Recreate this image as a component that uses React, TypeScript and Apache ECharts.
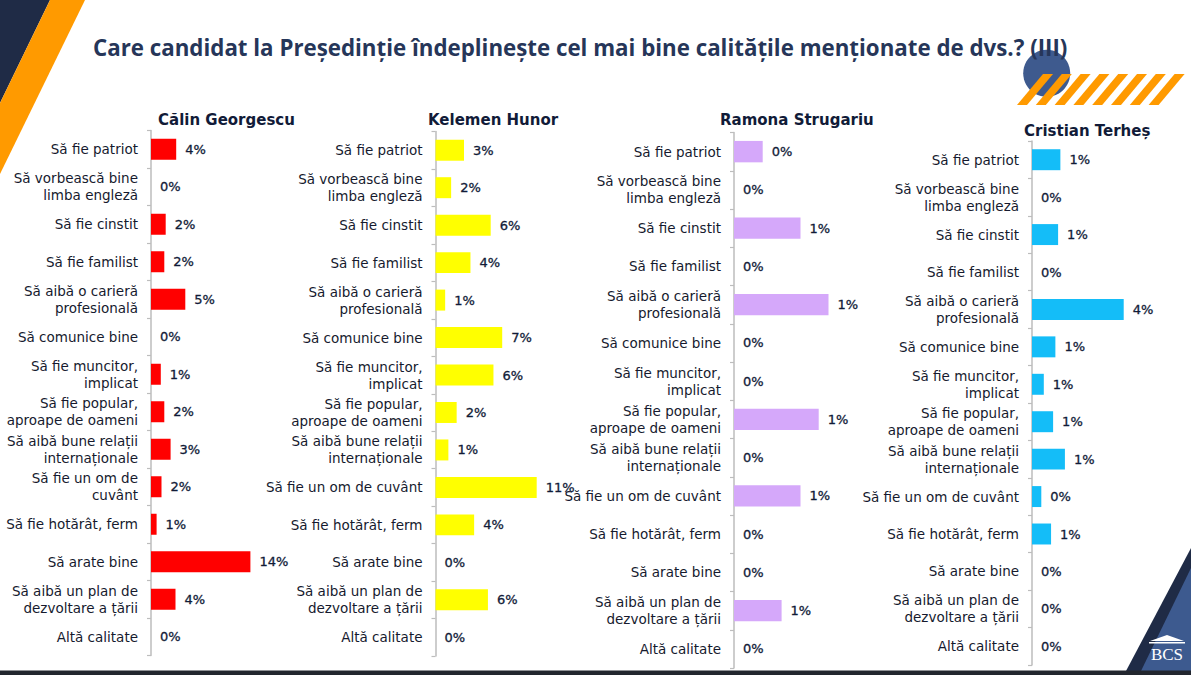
import React, { useEffect, useRef } from "react";
import * as echarts from "echarts";

const TITLE = "Care candidat la Președinție îndeplinește cel mai bine calitățile menționate de dvs.? (III)";

const candidates = ["Călin Georgescu", "Kelemen Hunor", "Ramona Strugariu", "Cristian Terheș"];

const categoriesA = [
  "Să fie patriot",
  "Să vorbească bine\nlimba engleză",
  "Să fie cinstit",
  "Să fie familist",
  "Să aibă o carieră\nprofesională",
  "Să comunice bine",
  "Să fie muncitor,\nimplicat",
  "Să fie popular,\naproape de oameni",
  "Să aibă bune relații\ninternaționale",
  "Să fie un om de\ncuvânt",
  "Să fie hotărât, ferm",
  "Să arate bine",
  "Să aibă un plan de\ndezvoltare a țării",
  "Altă calitate",
];

const categoriesB = [
  "Să fie patriot",
  "Să vorbească bine\nlimba engleză",
  "Să fie cinstit",
  "Să fie familist",
  "Să aibă o carieră\nprofesională",
  "Să comunice bine",
  "Să fie muncitor,\nimplicat",
  "Să fie popular,\naproape de oameni",
  "Să aibă bune relații\ninternaționale",
  "Să fie un om de cuvânt",
  "Să fie hotărât, ferm",
  "Să arate bine",
  "Să aibă un plan de\ndezvoltare a țării",
  "Altă calitate",
];

const georgescu = [3.6, 0, 2.1, 1.9, 4.9, 0, 1.4, 1.9, 2.8, 1.5, 0.8, 14.2, 3.5, 0];
const kelemen = [3.1, 1.7, 6.0, 3.8, 1.05, 7.25, 6.3, 2.3, 1.4, 11.0, 4.2, 0, 5.7, 0];
const strugariu = [0.41, 0, 0.95, 0, 1.35, 0, 0, 1.21, 0, 0.95, 0, 0, 0.68, 0];
const terhes = [1.25, 0, 1.15, 0, 4.04, 1.03, 0.52, 0.93, 1.45, 0.41, 0.84, 0, 0, 0];

const panelData = [georgescu, kelemen, strugariu, terhes];
const panelCategories = [categoriesA, categoriesB, categoriesB, categoriesB];
const panelColors = ["#ff0000", "#ffff00", "#d5a8fa", "#14bdf8"];
const panelMax = [20, 15, 2, 6];

// layout (px)
const panelGrids = [
  { left: 151, top: 130.5, width: 140, height: 525 },
  { left: 435.5, top: 131.5, width: 138, height: 524.5 },
  { left: 734, top: 132.5, width: 140, height: 535.5 },
  { left: 1032, top: 141, width: 136.2, height: 524 },
];
const panelTitlePos = [
  { x: 158, y: 120 },
  { x: 428, y: 120 },
  { x: 720, y: 120 },
  { x: 1024, y: 131 },
];

const FONT = "DejaVu Sans";
const NAVY = "#111b38";

export default function App() {
  const ref = useRef<HTMLDivElement>(null);
  useEffect(() => {
    if (!ref.current) return;
    const chart = echarts.init(ref.current, null, { renderer: "svg" });

    const grid = panelGrids.map((g) => ({ ...g, containLabel: false }));
    const xAxis = panelMax.map((m, i) => ({
      type: "value",
      gridIndex: i,
      min: 0,
      max: m,
      show: false,
    }));
    const yAxis = panelCategories.map((cats, i) => ({
      type: "category",
      gridIndex: i,
      inverse: true,
      data: cats,
      axisLine: { show: true, lineStyle: { color: "#bdbdbd", width: 1.5 } },
      axisTick: { show: true, length: 4, lineStyle: { color: "#bdbdbd", width: 1.2 } },
      axisLabel: {
        color: "#161a2e",
        fontFamily: FONT,
        fontSize: 13.5,
        lineHeight: 17,
        margin: 13,
        align: "right",
      },
      splitLine: { show: false },
    }));
    const series = panelData.map((d, i) => ({
      type: "bar",
      xAxisIndex: i,
      yAxisIndex: i,
      data: d,
      barCategoryGap: "44%",
      itemStyle: { color: panelColors[i] },
      label: {
        show: true,
        position: "right",
        distance: 9,
        fontFamily: FONT,
        fontSize: 13,
        color: NAVY,
        textBorderColor: NAVY,
        textBorderWidth: 0.3,
        formatter: (p: any) => Math.round(p.value) + "%",
      },
    }));

    const stripes: any[] = [];
    for (let i = 0; i < 8; i++) {
      const bx = 1017 + i * 18.8;
      stripes.push({
        type: "polygon",
        z: 2,
        shape: {
          points: [
            [bx, 105],
            [bx + 10, 105],
            [bx + 36, 74],
            [bx + 26, 74],
          ],
        },
        style: { fill: "#ff9a00" },
      });
    }

    const graphic: any[] = [
      {
        type: "polygon",
        z: 1,
        shape: { points: [[0, 0], [50, 0], [0, 103]] },
        style: { fill: "#1f2b46" },
      },
      {
        type: "polygon",
        z: 1,
        shape: { points: [[50, 0], [85, 0], [0, 174], [0, 103]] },
        style: { fill: "#ff9a00" },
      },
      {
        type: "circle",
        z: 1,
        shape: { cx: 1046.7, cy: 73.3, r: 23.5 },
        style: { fill: "#3e5a8e" },
      },
      ...stripes,
      {
        type: "polygon",
        z: 1,
        shape: { points: [[1126, 671], [1191, 548], [1191, 671]] },
        style: { fill: "#1f2b46" },
      },
      {
        type: "polygon",
        z: 1,
        shape: { points: [[1141, 671], [1191, 568], [1191, 671]] },
        style: { fill: "#3d5a8f" },
      },
      {
        type: "polygon",
        z: 3,
        shape: { points: [[1150, 641], [1167, 635], [1184, 641]] },
        style: { fill: "#ffffff" },
      },
      {
        type: "rect",
        z: 3,
        shape: { x: 1149, y: 642, width: 36, height: 1.5 },
        style: { fill: "#ffffff" },
      },
      {
        type: "text",
        z: 3,
        style: {
          text: "BCS",
          x: 1167,
          y: 654,
          fill: "#ffffff",
          font: "17px 'Liberation Serif'",
          textAlign: "center",
          textVerticalAlign: "middle",
        },
      },
      {
        type: "rect",
        z: 1,
        shape: { x: 0, y: 670.5, width: 1191, height: 5 },
        style: { fill: "#22262e" },
      },
      {
        type: "text",
        z: 3,
        style: {
          text: TITLE,
          x: 93,
          y: 47,
          fill: "#263659",
          font: "bold 22.3px 'Open Sans'",
          textVerticalAlign: "middle",
        },
      },
      ...candidates.map((c, i) => ({
        type: "text",
        z: 3,
        style: {
          text: c,
          x: panelTitlePos[i].x,
          y: panelTitlePos[i].y,
          fill: NAVY,
          font: `bold 15px '${FONT}'`,
          textVerticalAlign: "middle",
        },
      })),
    ];

    chart.setOption({
      animation: false,
      backgroundColor: "#ffffff",
      grid,
      xAxis,
      yAxis,
      series,
      graphic,
    });
    return () => chart.dispose();
  }, []);

  return (
    <div
      ref={ref}
      style={{ position: "fixed", left: 0, top: 0, width: 1191, height: 675 }}
    />
  );
}
